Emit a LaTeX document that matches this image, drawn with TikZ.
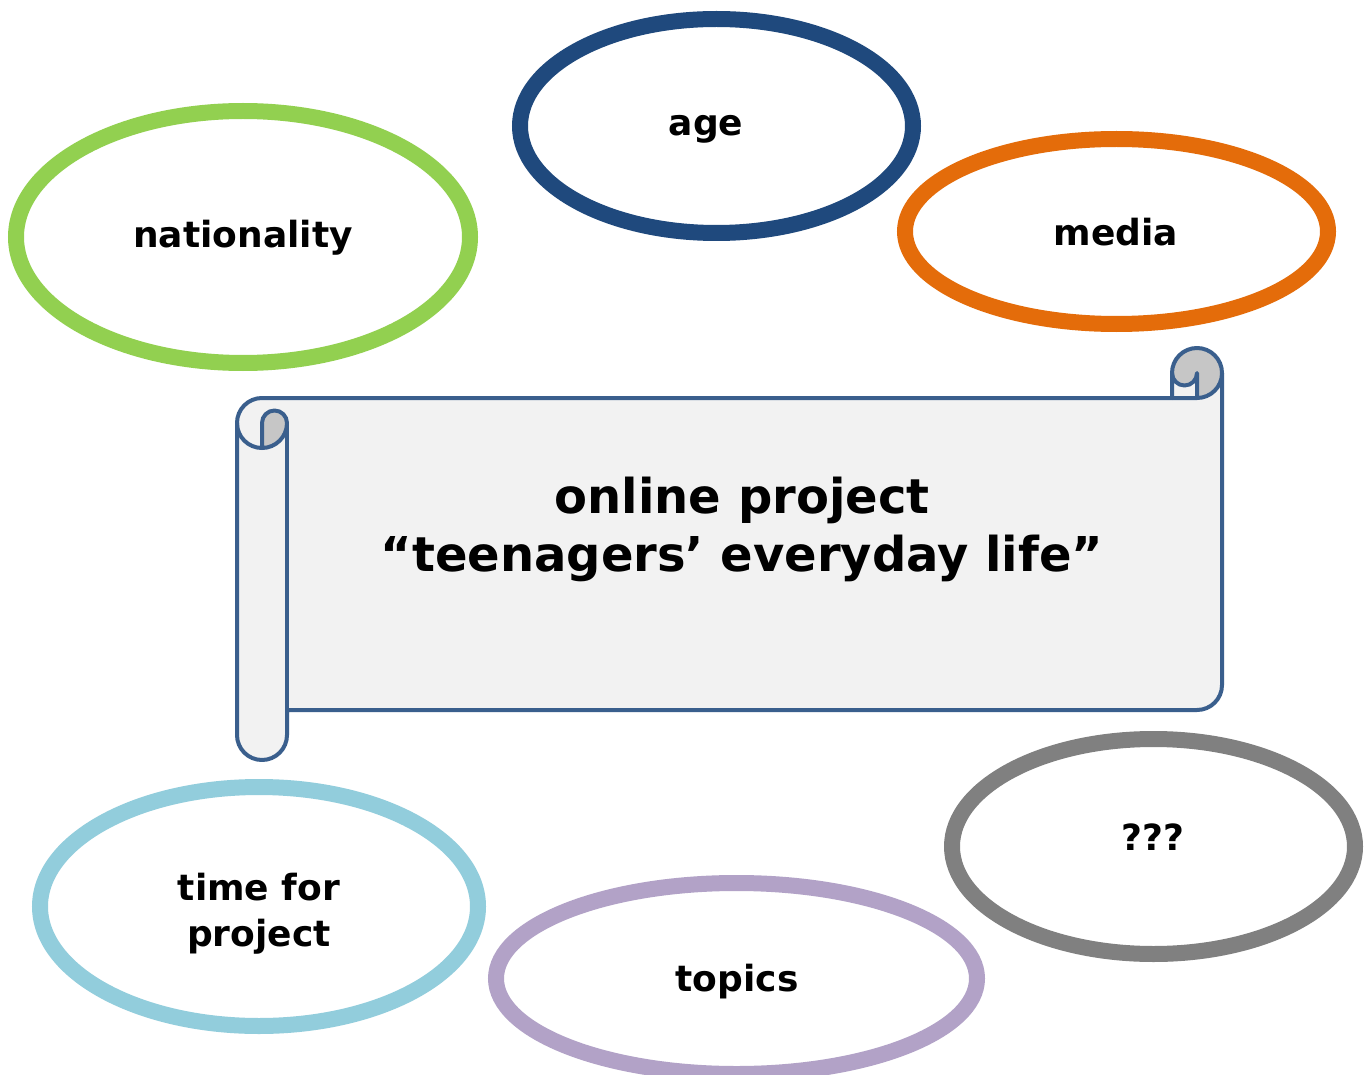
\documentclass[tikz,border=0pt]{standalone}
\usepackage{fontspec}
\setmainfont{DejaVu Sans}
\usetikzlibrary{shapes.geometric}
\definecolor{ngreen}{HTML}{92D050}
\definecolor{ndblue}{HTML}{1F497D}
\definecolor{norange}{HTML}{E46C0A}
\definecolor{ngray}{HTML}{808080}
\definecolor{nlblue}{HTML}{92CDDC}
\definecolor{nlav}{HTML}{B2A2C7}
\definecolor{scrollblue}{HTML}{3A5F8D}
\definecolor{scrollfill}{HTML}{F2F2F2}
\definecolor{scrolldark}{HTML}{C6C6C6}
\begin{document}
\begin{tikzpicture}[x=1pt,y=-1pt,
  ring/.style={draw, ellipse, line width=16pt, inner sep=0pt, fill=white},
  lbl/.style={font=\bfseries\fontsize{36}{46}\selectfont, align=center, inner sep=0pt},
  bigl/.style={font=\bfseries\fontsize{48}{58}\selectfont, align=center, inner sep=0pt},
  scrollline/.style={draw=scrollblue, line width=4pt, line join=round, line cap=round}]
\useasboundingbox (0,0) rectangle (1368,1075);
\fill[white] (0,0) rectangle (1368,1075);

% ellipses
\node[ring, draw=ngreen, minimum width=454pt, minimum height=252pt] (nat) at (243,237) {};
\node[ring, draw=ndblue, minimum width=393pt, minimum height=214pt] (age) at (716.5,126) {};
\node[ring, draw=norange, minimum width=423pt, minimum height=185pt] (med) at (1116.5,231.5) {};
\node[ring, draw=ngray, minimum width=403pt, minimum height=215pt] (qqq) at (1153.5,846.5) {};
\node[ring, draw=nlblue, minimum width=438pt, minimum height=239pt] (tim) at (259,906.5) {};
\node[ring, draw=nlav, minimum width=481pt, minimum height=191pt] (top) at (736.5,978.5) {};

% scroll (l=237, t=348, ch=50)
\fill[scrollfill] (1222,373) arc[start angle=0, delta angle=90, radius=25]
  -- (1197,373) arc[start angle=0, delta angle=180, radius=12.5]
  -- (1172,398) -- (262,398) arc[start angle=270, delta angle=-90, radius=25]
  -- (237,735) arc[start angle=180, delta angle=-180, radius=25]
  -- (287,710) -- (1197,710) arc[start angle=90, delta angle=-90, radius=25] -- cycle;
\fill[scrolldark] (262,448) arc[start angle=90, delta angle=-90, radius=25]
  arc[start angle=0, delta angle=-180, radius=12.5] -- cycle;
\fill[scrolldark] (1197,398) arc[start angle=90, delta angle=-270, radius=25]
  arc[start angle=180, delta angle=-180, radius=12.5] -- cycle;
\path[scrollline] (237,423) arc[start angle=180, delta angle=90, radius=25]
  -- (1172,398) -- (1172,373) arc[start angle=180, delta angle=180, radius=25]
  -- (1222,685) arc[start angle=0, delta angle=90, radius=25]
  -- (287,710) -- (287,735) arc[start angle=0, delta angle=180, radius=25] -- cycle;
\path[scrollline] (1172,398) -- (1197,398) arc[start angle=90, delta angle=-90, radius=25];
\path[scrollline] (1197,398) -- (1197,373) arc[start angle=0, delta angle=180, radius=12.5];
\path[scrollline] (262,448) -- (262,423) arc[start angle=180, delta angle=180, radius=12.5]
  arc[start angle=0, delta angle=180, radius=25];
\path[scrollline] (287,423) -- (287,710);

% labels
\node[lbl, anchor=base] (tnat) at (243,248) {nationality};
\node[lbl, anchor=base] (tage) at (706,136) {age};
\node[lbl, anchor=base] (tmed) at (1116,246) {media};
\node[lbl, anchor=base] (tqqq) at (1153,850) {???};
\node[lbl] (ttim) at (259,914) {time for\\project};
\node[lbl, anchor=base] (ttop) at (737,991) {topics};
\node[bigl] (tmain) at (742,529) {online project\\“teenagers’ everyday life”};
\end{tikzpicture}
\end{document}
